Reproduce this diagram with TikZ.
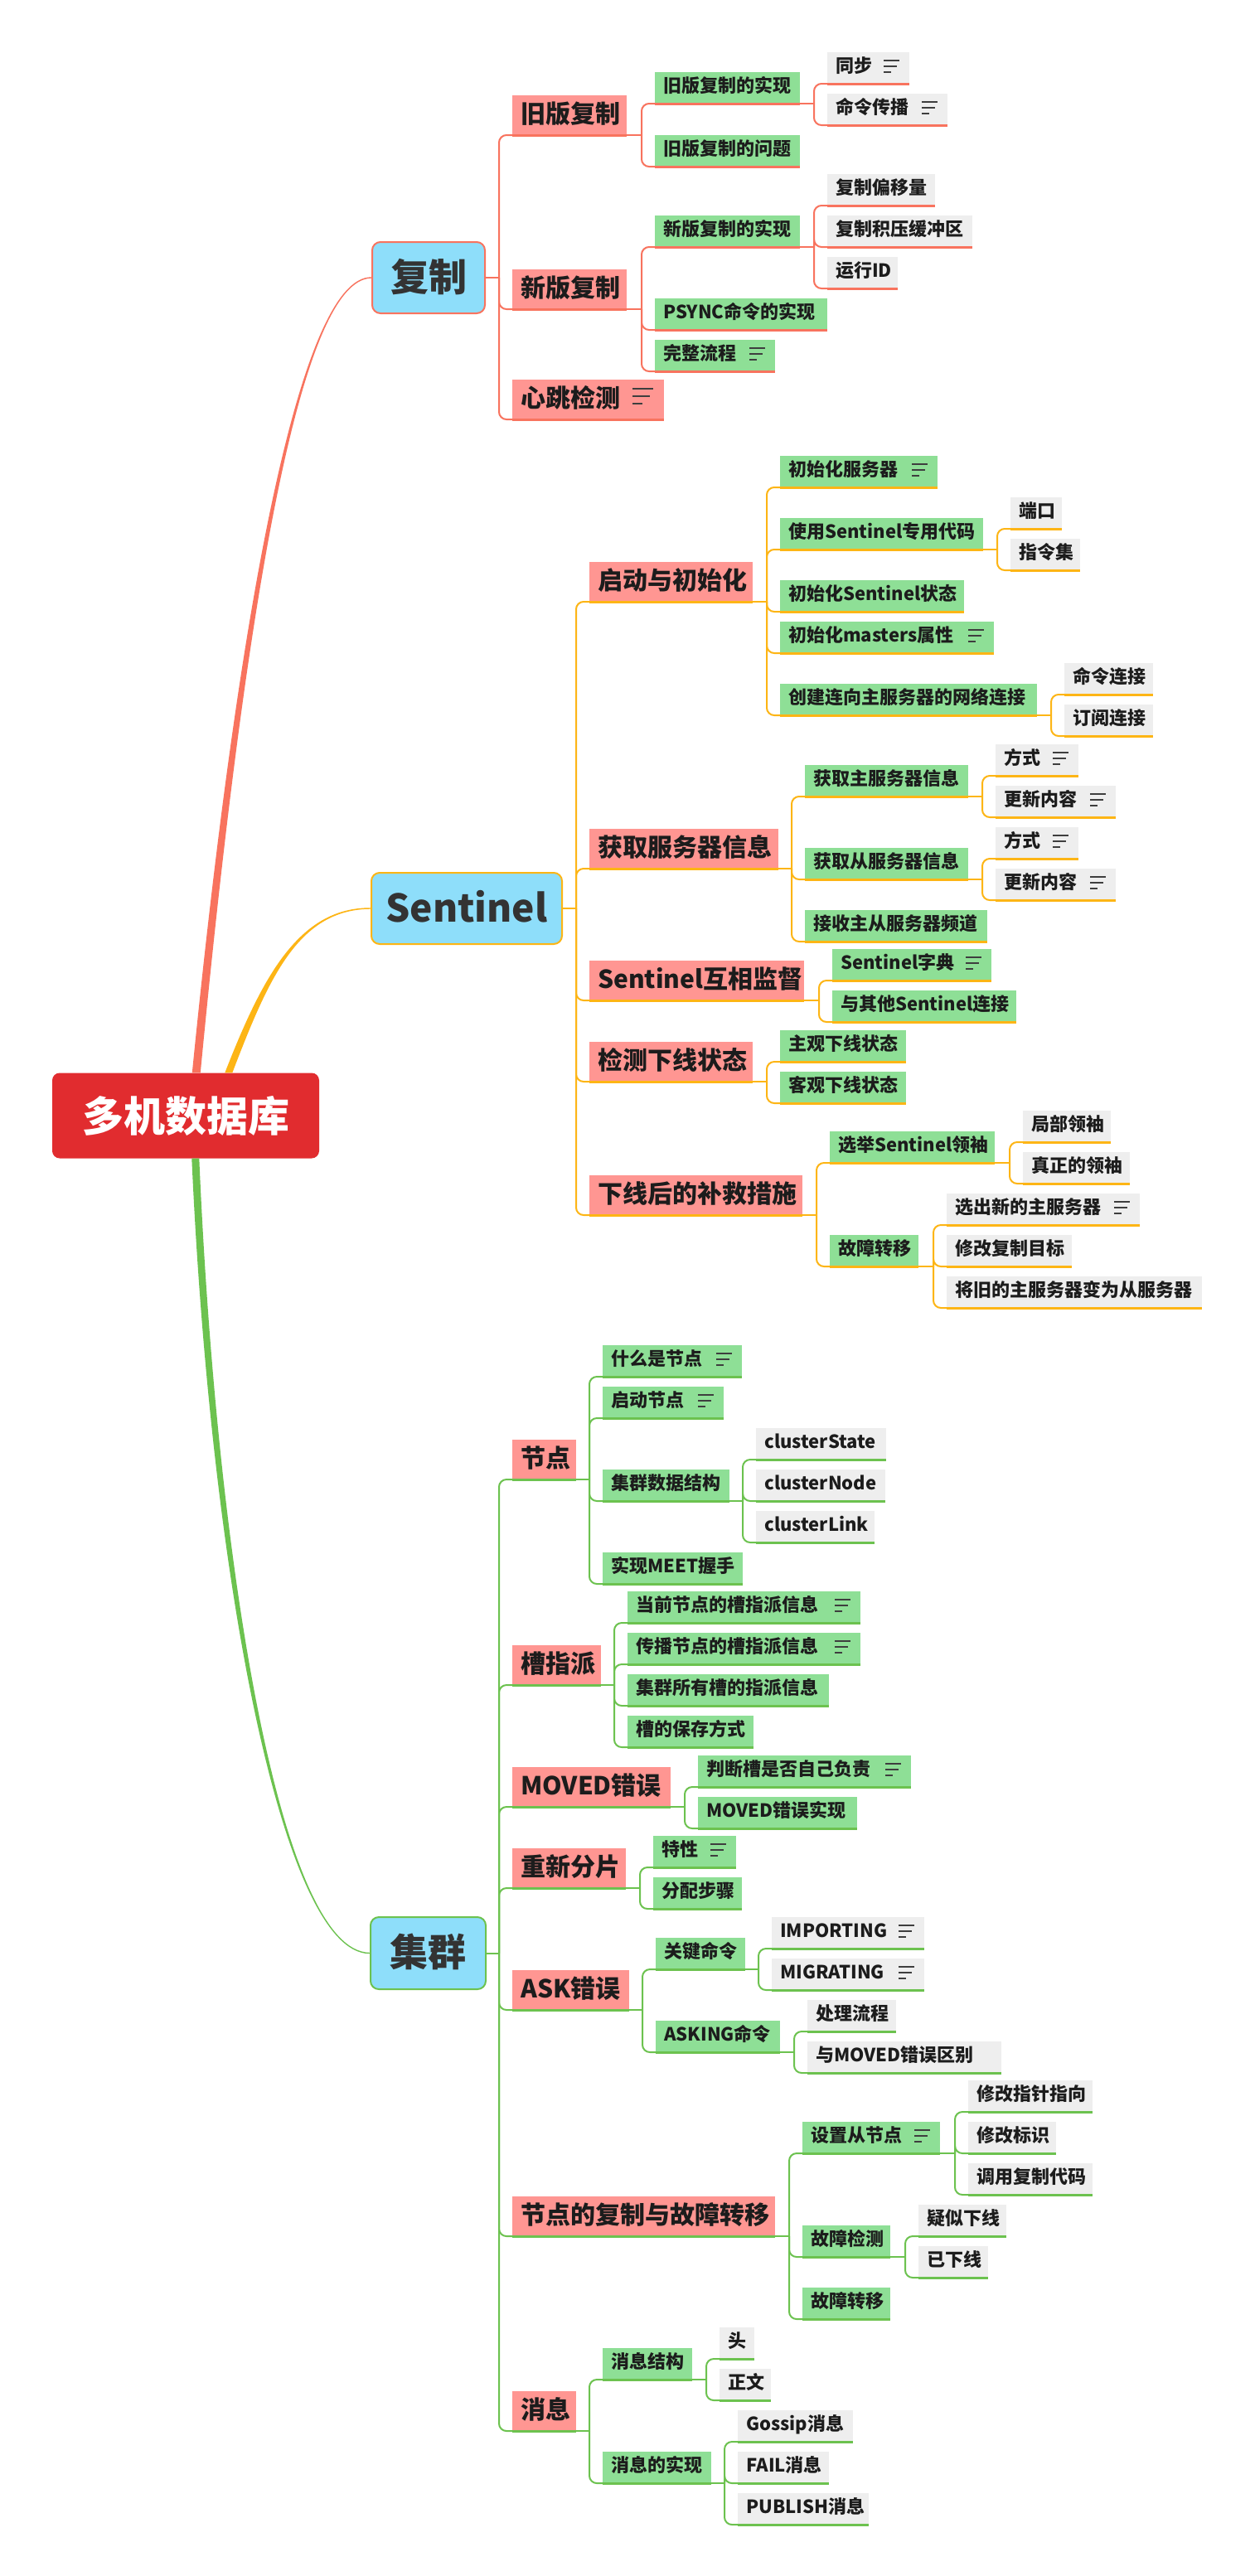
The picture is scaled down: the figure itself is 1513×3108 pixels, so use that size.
\documentclass[tikz,border=0pt]{standalone}
\usepackage{fontspec}
\setmainfont{Noto Sans CJK SC}
\usetikzlibrary{calc}
\definecolor{cA}{HTML}{F8735E}
\definecolor{cB}{HTML}{FDB515}
\definecolor{cC}{HTML}{6CC24F}
\definecolor{rootc}{HTML}{E12C2F}
\definecolor{bl}{HTML}{8EDEFA}
\definecolor{pk}{HTML}{FF9692}
\definecolor{gn}{HTML}{8EDF96}
\definecolor{gy}{HTML}{EEEEEE}
\definecolor{txt}{HTML}{1C1C1C}
\definecolor{mtxt}{HTML}{333333}
\tikzset{
  base/.style={inner xsep=10pt, inner ysep=0pt, text=txt},
  l2/.style={base, fill=pk, minimum height=48pt, text height=24.4pt, text depth=5.6pt, font=\fontsize{30}{36}\selectfont\bfseries},
  l3/.style={base, fill=gn, minimum height=38pt, text height=17pt, text depth=5pt, font=\fontsize{22}{26}\selectfont\bfseries},
  l4/.style={l3, fill=gy},
  mainbox/.style={draw=#1, line width=2pt, fill=bl, rounded corners=10pt, text=mtxt,
    font=\fontsize{46}{55}\selectfont\bfseries, inner sep=0pt, text height=39pt, text depth=7pt},
  rootbox/.style={fill=rootc, rounded corners=9pt, text=white,
    font=\fontsize{50}{60}\selectfont\bfseries, inner sep=0pt, text height=44pt, text depth=6pt},
  icon/.style={draw=txt!85, line width=2pt},
  conn/.style={draw=#1, line width=2pt},
}
\newcommand\nd[6]{\node[#2,anchor=south west,minimum width=#5pt] (#1) at (#3,#4) {\makebox[\dimexpr#5pt-20pt\relax][l]{#6}};}
\newcommand\ic[1]{\draw[icon] ($(#1.east)+(-31,-9)$) -- ++(19,0) ($(#1.east)+(-31,-2)$) -- ++(16,0) ($(#1.east)+(-31,5)$) -- ++(9,0);}
\newcommand\icb[1]{\draw[icon,line width=2.5pt] ($(#1.east)+(-38,-13)$) -- ++(25,0) ($(#1.east)+(-38,-4)$) -- ++(21,0) ($(#1.east)+(-38,5)$) -- ++(12,0);}
\newcommand\br[3]{%
  \foreach \c in {#3}{%
    \draw[conn=#1] (#2) -- ($(#2 -| \c.south west)+(-16,0)$);
    \draw[conn=#1,rounded corners=9pt] ($(#2 -| \c.south west)+(-16,0)$) |- (\c.south west);
    \draw[conn=#1,line width=3pt] (\c.south west) -- (\c.south east);
  }}
\begin{document}
\begin{tikzpicture}[x=1pt,y=-1pt]
\useasboundingbox[fill=white] (0,0) rectangle (1513,3108);

% main nodes
\node[rootbox, minimum width=322pt, minimum height=103pt] (root) at (224,1346) {多机数据库};
\node[mainbox=cA, minimum width=136pt, minimum height=86pt] (fz) at (517,335) {复制};
\node[mainbox=cB, minimum width=230pt, minimum height=86pt] (st) at (563,1096) {Sentinel};
\node[mainbox=cC, minimum width=139pt, minimum height=87pt] (jq) at (516.5,2356.5) {集群};

% tapered curves
\fill[cA] ($(root.north west)+(169,0)$) .. controls (286,750) and (360,333.5) .. ($(fz.west)+(0,-0.7)$)
  -- ($(fz.west)+(0,0.7)$) .. controls (360,336.5) and (294,750) .. ($(root.north west)+(179,0)$) -- cycle;
\fill[cB] ($(root.north west)+(208.5,0)$) .. controls (316,1180) and (360,1094.8) .. ($(st.west)+(0,-0.7)$)
  -- ($(st.west)+(0,0.7)$) .. controls (360,1097.2) and (324,1180) .. ($(root.north west)+(217.5,0)$) -- cycle;
\fill[cC] ($(root.south west)+(168.5,0)$) .. controls (254,1900) and (340,2357.7) .. ($(jq.west)+(0,0.7)$)
  -- ($(jq.west)+(0,-0.7)$) .. controls (340,2355.3) and (262,1900) .. ($(root.south west)+(177.5,0)$) -- cycle;

% ---------- 复制 ----------
\nd{a1}{l2}{618}{163}{138}{旧版复制}
\nd{a2}{l2}{618}{373}{138}{新版复制}
\nd{a3}{l2}{618}{506}{183}{心跳检测}\icb{a3}
\nd{a11}{l3}{790}{125}{175}{旧版复制的实现}
\nd{a12}{l3}{790}{201}{175}{旧版复制的问题}
\nd{a21}{l3}{790}{298}{175}{新版复制的实现}
\nd{a22}{l3}{790}{398}{208}{PSYNC命令的实现}
\nd{a23}{l3}{790}{448}{145}{完整流程}\ic{a23}
\nd{a111}{l4}{998}{101}{99}{同步}\ic{a111}
\nd{a112}{l4}{998}{151}{145}{命令传播}\ic{a112}
\nd{a211}{l4}{998}{248}{130}{复制偏移量}
\nd{a212}{l4}{998}{298}{175}{复制积压缓冲区}
\nd{a213}{l4}{998}{348}{85}{运行ID}
\br{cA}{fz.east}{a1,a2,a3}
\br{cA}{a1.south east}{a11,a12}
\br{cA}{a2.south east}{a21,a22,a23}
\br{cA}{a11.south east}{a111,a112}
\br{cA}{a21.south east}{a211,a212,a213}

% ---------- Sentinel ----------
\nd{b1}{l2}{711}{726}{197}{启动与初始化}
\nd{b2}{l2}{711}{1048}{228}{获取服务器信息}
\nd{b3}{l2}{711}{1207}{259}{Sentinel互相监督}
\nd{b4}{l2}{711}{1305}{197}{检测下线状态}
\nd{b5}{l2}{711}{1466}{257}{下线后的补救措施}
\nd{b11}{l3}{941}{588}{190}{初始化服务器}\ic{b11}
\nd{b12}{l3}{941}{663}{245}{使用Sentinel专用代码}
\nd{b13}{l3}{941}{738}{222}{初始化Sentinel状态}
\nd{b14}{l3}{941}{788}{258}{初始化masters属性}\ic{b14}
\nd{b15}{l3}{941}{863}{310}{创建连向主服务器的网络连接}
\nd{b121}{l4}{1219}{638}{62}{端口}
\nd{b122}{l4}{1219}{688}{84}{指令集}
\nd{b151}{l4}{1284}{838}{107}{命令连接}
\nd{b152}{l4}{1284}{888}{107}{订阅连接}
\nd{b21}{l3}{971}{961}{197}{获取主服务器信息}
\nd{b22}{l3}{971}{1061}{197}{获取从服务器信息}
\nd{b23}{l3}{971}{1136}{220}{接收主从服务器频道}
\nd{b211}{l4}{1201}{936}{100}{方式}\ic{b211}
\nd{b212}{l4}{1201}{986}{145}{更新内容}\ic{b212}
\nd{b221}{l4}{1201}{1036}{100}{方式}\ic{b221}
\nd{b222}{l4}{1201}{1086}{145}{更新内容}\ic{b222}
\nd{b31}{l3}{1004}{1183}{192}{Sentinel字典}\ic{b31}
\nd{b32}{l3}{1004}{1233}{222}{与其他Sentinel连接}
\nd{b41}{l3}{941}{1281}{152}{主观下线状态}
\nd{b42}{l3}{941}{1331}{152}{客观下线状态}
\nd{b51}{l3}{1001}{1403}{199}{选举Sentinel领袖}
\nd{b52}{l3}{1001}{1528}{107}{故障转移}
\nd{b511}{l4}{1234}{1378}{106}{局部领袖}
\nd{b512}{l4}{1234}{1428}{129}{真正的领袖}
\nd{b521}{l4}{1142}{1478}{233}{选出新的主服务器}\ic{b521}
\nd{b522}{l4}{1142}{1528}{151}{修改复制目标}
\nd{b523}{l4}{1142}{1578}{308}{将旧的主服务器变为从服务器}
\br{cB}{st.east}{b1,b2,b3,b4,b5}
\br{cB}{b1.south east}{b11,b12,b13,b14,b15}
\br{cB}{b12.south east}{b121,b122}
\br{cB}{b15.south east}{b151,b152}
\br{cB}{b2.south east}{b21,b22,b23}
\br{cB}{b21.south east}{b211,b212}
\br{cB}{b22.south east}{b221,b222}
\br{cB}{b3.south east}{b31,b32}
\br{cB}{b4.south east}{b41,b42}
\br{cB}{b5.south east}{b51,b52}
\br{cB}{b51.south east}{b511,b512}
\br{cB}{b52.south east}{b521,b522,b523}

% ---------- 集群 ----------
\nd{c1}{l2}{618}{1785}{77}{节点}
\nd{c2}{l2}{618}{2033}{107}{槽指派}
\nd{c3}{l2}{618}{2180}{191}{MOVED错误}
\nd{c4}{l2}{618}{2278}{137}{重新分片}
\nd{c5}{l2}{618}{2425}{141}{ASK错误}
\nd{c6}{l2}{618}{2698}{317}{节点的复制与故障转移}
\nd{c7}{l2}{618}{2933}{77}{消息}
\nd{c11}{l3}{727}{1661}{168}{什么是节点}\ic{c11}
\nd{c12}{l3}{727}{1711}{146}{启动节点}\ic{c12}
\nd{c13}{l3}{727}{1811}{153}{集群数据结构}
\nd{c14}{l3}{727}{1911}{169}{实现MEET握手}
\nd{c131}{l4}{912}{1761}{157}{clusterState}
\nd{c132}{l4}{912}{1811}{156}{clusterNode}
\nd{c133}{l4}{912}{1861}{143}{clusterLink}
\nd{c21}{l3}{757}{1958}{281}{当前节点的槽指派信息}\ic{c21}
\nd{c22}{l3}{757}{2008}{281}{传播节点的槽指派信息}\ic{c22}
\nd{c23}{l3}{757}{2058}{243}{集群所有槽的指派信息}
\nd{c24}{l3}{757}{2108}{152}{槽的保存方式}
\nd{c31}{l3}{842}{2156}{257}{判断槽是否自己负责}\ic{c31}
\nd{c32}{l3}{842}{2206}{192}{MOVED错误实现}
\nd{c41}{l3}{788}{2253}{100}{特性}\ic{c41}
\nd{c42}{l3}{788}{2303}{107}{分配步骤}
\nd{c51}{l3}{791}{2376}{108}{关键命令}
\nd{c52}{l3}{791}{2476}{150}{ASKING命令}
\nd{c511}{l4}{931}{2351}{184}{IMPORTING}\ic{c511}
\nd{c512}{l4}{931}{2401}{184}{MIGRATING}\ic{c512}
\nd{c521}{l4}{974}{2451}{107}{处理流程}
\nd{c522}{l4}{974}{2501}{234}{与MOVED错误区别}
\nd{c61}{l3}{968}{2598}{166}{设置从节点}\ic{c61}
\nd{c62}{l3}{968}{2723}{106}{故障检测}
\nd{c63}{l3}{968}{2798}{106}{故障转移}
\nd{c611}{l4}{1168}{2548}{150}{修改指针指向}
\nd{c612}{l4}{1168}{2598}{106}{修改标识}
\nd{c613}{l4}{1168}{2648}{150}{调用复制代码}
\nd{c621}{l4}{1108}{2698}{106}{疑似下线}
\nd{c622}{l4}{1108}{2748}{84}{已下线}
\nd{c71}{l3}{727}{2871}{108}{消息结构}
\nd{c72}{l3}{727}{2996}{131}{消息的实现}
\nd{c711}{l4}{868}{2846}{42}{头}
\nd{c712}{l4}{868}{2896}{62}{正文}
\nd{c721}{l4}{890}{2946}{139}{Gossip消息}
\nd{c722}{l4}{890}{2996}{110}{FAIL消息}
\nd{c723}{l4}{890}{3046}{158}{PUBLISH消息}
\br{cC}{jq.east}{c1,c2,c3,c4,c5,c6,c7}
\br{cC}{c1.south east}{c11,c12,c13,c14}
\br{cC}{c13.south east}{c131,c132,c133}
\br{cC}{c2.south east}{c21,c22,c23,c24}
\br{cC}{c3.south east}{c31,c32}
\br{cC}{c4.south east}{c41,c42}
\br{cC}{c5.south east}{c51,c52}
\br{cC}{c51.south east}{c511,c512}
\br{cC}{c52.south east}{c521,c522}
\br{cC}{c6.south east}{c61,c62,c63}
\br{cC}{c61.south east}{c611,c612,c613}
\br{cC}{c62.south east}{c621,c622}
\br{cC}{c7.south east}{c71,c72}
\br{cC}{c71.south east}{c711,c712}
\br{cC}{c72.south east}{c721,c722,c723}
\end{tikzpicture}
\end{document}
